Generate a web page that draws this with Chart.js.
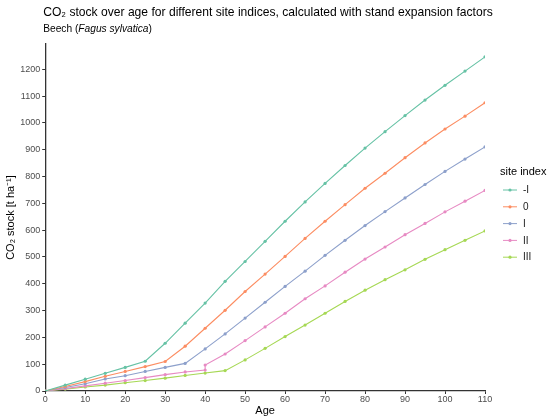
<!DOCTYPE html>
<html>
<head>
<meta charset="utf-8">
<script src="https://cdn.jsdelivr.net/npm/chart.js@4.4.0/dist/chart.umd.min.js"></script>
<style>
  html, body { margin: 0; padding: 0; background: #fff; }
  #wrap { width: 550px; height: 419px; position: relative; }
</style>
</head>
<body>
<div id="wrap"><canvas id="co2Chart"></canvas></div>
<script>
// Age in years (every 5 years)
const ages = [0, 5, 10, 15, 20, 25, 30, 35, 40, 45, 50, 55, 60, 65, 70, 75, 80, 85, 90, 95, 100, 105, 110];
// site index II has a step at age 40, so it carries its own ages
const agesII = [0, 5, 10, 15, 20, 25, 30, 35, 40, 40, 45, 50, 55, 60, 65, 70, 75, 80, 85, 90, 95, 100, 105, 110];

// CO2 stock [t/ha]
const stockMinusI = [0, 22, 44, 66, 88, 111, 178, 253, 328, 409, 483, 558, 633, 705, 774, 841, 906, 967, 1027, 1085, 1140, 1193, 1246];
const stock0      = [0, 17, 35, 55, 73, 91, 110, 167, 234, 301, 371, 436, 502, 569, 633, 695, 756, 812, 870, 925, 977, 1025, 1075];
const stockI      = [0, 13, 27, 45, 57, 73, 88, 103, 157, 213, 272, 331, 390, 447, 506, 562, 617, 669, 720, 770, 819, 865, 910];
const stockII     = [0, 9, 19, 29, 39, 50, 61, 71, 78, 97, 138, 188, 239, 290, 344, 392, 443, 492, 537, 583, 625, 668, 708, 748];
const stockIII    = [0, 7, 15, 22, 31, 39, 48, 58, 67, 76, 116, 159, 203, 246, 290, 334, 376, 415, 452, 491, 527, 562, 597];

const siteIndices = ['-I', '0', 'I', 'II', 'III'];
const xTicks = [0, 10, 20, 30, 40, 50, 60, 70, 80, 90, 100, 110];
const yTicks = [0, 100, 200, 300, 400, 500, 600, 700, 800, 900, 1000, 1100, 1200];

const colors = ['#66C2A5', '#FC8D62', '#8DA0CB', '#E78AC3', '#A6D854'];
const FONT = '"Liberation Sans", Arial, sans-serif';

function toPoints(xs, ys) {
    return ys.map((y, i) => ({ x: xs[i], y: y }));
}

// title + subtitle aligned with the plot panel
const titlePlugin = {
    id: 'panelTitle',
    afterDraw(chart) {
        const ctx = chart.ctx;
        const left = chart.chartArea.left - 2;
        ctx.save();
        ctx.fillStyle = '#000';
        ctx.textBaseline = 'alphabetic';
        ctx.font = '12.1px ' + FONT;
        ctx.fillText('CO₂ stock over age for different site indices, calculated with stand expansion factors', left, 16);

        let x = left;
        const parts = [['Beech (', ''], ['Fagus sylvatica', 'italic '], [')', '']];
        parts.forEach(([txt, style]) => {
            ctx.font = style + '10.2px ' + FONT;
            ctx.fillText(txt, x, 32);
            x += ctx.measureText(txt).width;
        });
        ctx.restore();
    }
};

// ggplot-like legend to the right of the panel
const legendPlugin = {
    id: 'siteLegend',
    afterDraw(chart) {
        const ctx = chart.ctx;
        const x0 = chart.chartArea.right;
        ctx.save();
        ctx.fillStyle = '#000';
        ctx.font = '11px ' + FONT;
        ctx.textBaseline = 'alphabetic';
        ctx.fillText('site index', x0 + 15, 175);

        ctx.font = '10px ' + FONT;
        ctx.textBaseline = 'middle';
        chart.data.datasets.forEach((ds, i) => {
            const y = 190 + i * 16.8;
            ctx.strokeStyle = colors[i];
            ctx.lineWidth = 1;
            ctx.beginPath();
            ctx.moveTo(x0 + 18, y);
            ctx.lineTo(x0 + 32, y);
            ctx.stroke();
            ctx.fillStyle = colors[i];
            ctx.beginPath();
            ctx.arc(x0 + 25, y, 1.6, 0, Math.PI * 2);
            ctx.fill();
            ctx.fillStyle = '#222';
            ctx.fillText(ds.label, x0 + 38, y + 0.5);
        });
        ctx.restore();
    }
};

const seriesValues = [stockMinusI, stock0, stockI, stockII, stockIII];
const datasets = siteIndices.map((name, i) => ({
    label: name,
    data: toPoints(i === 3 ? agesII : ages, seriesValues[i]),
    borderColor: colors[i],
    backgroundColor: colors[i],
    borderWidth: 1.1,
    pointRadius: 1.6,
    pointHoverRadius: 2,
    pointBorderWidth: 0,
    tension: 0
}));

const ctx = document.getElementById('co2Chart').getContext('2d');
new Chart(ctx, {
    type: 'line',
    data: { datasets: datasets },
    options: {
        responsive: true,
        maintainAspectRatio: false,
        animation: false,
        layout: { padding: { top: 44, left: 4, right: 65, bottom: 1 } },
        plugins: {
            tooltip: { enabled: false },
            legend: { display: false }
        },
        scales: {
            x: {
                type: 'linear',
                min: 0,
                max: 110,
                afterBuildTicks: (scale) => { scale.ticks = xTicks.map(v => ({ value: v })); },
                grid: { display: true, drawOnChartArea: false, drawTicks: true, tickLength: 3, color: '#333' },
                border: { display: true, color: '#333', width: 1.3 },
                ticks: { color: '#4D4D4D', font: { family: FONT, size: 9 }, padding: 0, maxRotation: 0, callback: (v) => String(v) },
                title: { display: true, text: 'Age', color: '#000', font: { family: FONT, size: 11 }, padding: { top: 0, bottom: 0 } }
            },
            y: {
                type: 'linear',
                min: 0,
                max: 1294,
                afterBuildTicks: (scale) => { scale.ticks = yTicks.map(v => ({ value: v })); },
                grid: { display: true, drawOnChartArea: false, drawTicks: true, tickLength: 3, color: '#333' },
                border: { display: true, color: '#333', width: 1.3 },
                ticks: { color: '#4D4D4D', font: { family: FONT, size: 9 }, padding: 2, callback: (v) => String(v) },
                title: { display: true, text: 'CO₂ stock [t ha⁻¹]', color: '#000', font: { family: FONT, size: 11 }, padding: { top: 0, bottom: 1 } }
            }
        }
    },
    plugins: [titlePlugin, legendPlugin]
});
</script>
</body>
</html>
